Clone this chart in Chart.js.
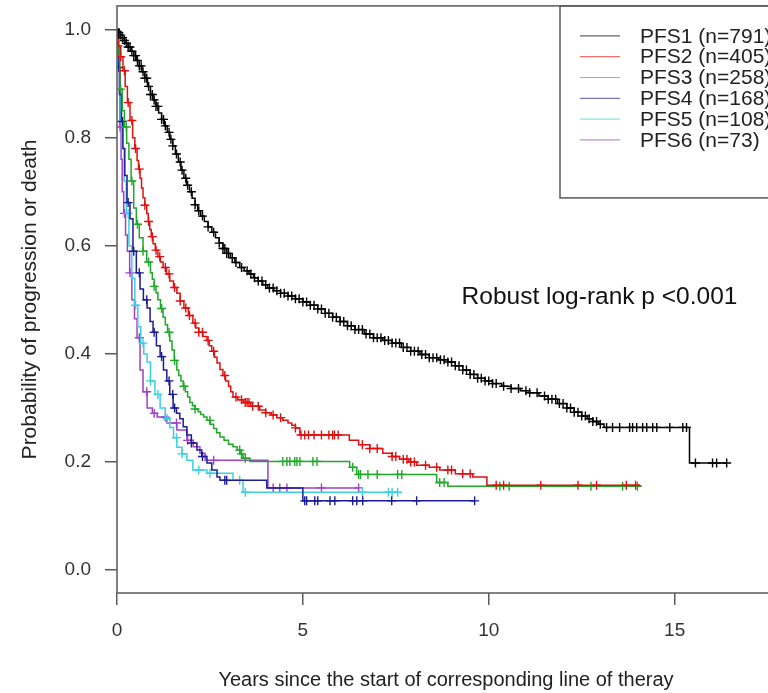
<!DOCTYPE html>
<html>
<head>
<meta charset="utf-8">
<script src="https://cdn.jsdelivr.net/npm/chart.js@4.4.1/dist/chart.umd.min.js"></script>
<style>
  html, body { margin: 0; padding: 0; background: #fff; overflow: hidden; }
  #wrap { width: 768px; height: 693px; overflow: hidden; }
  canvas { display: block; }
</style>
</head>
<body>
<div id="wrap"><canvas id="km" width="790" height="693"></canvas></div>
<script>
// Kaplan-Meier PFS by line of therapy
const seriesNames = ['PFS1 (n=791)', 'PFS2 (n=405)', 'PFS3 (n=258)', 'PFS4 (n=168)', 'PFS5 (n=108)', 'PFS6 (n=73)'];
const seriesColors = ['#000000', '#e01010', '#20a828', '#1c1c94', '#3cd0e0', '#a040cc'];

const pfs1Time = [0, 0.05, 0.1, 0.15, 0.2, 0.25, 0.3, 0.38, 0.45, 0.52, 0.6, 0.67, 0.75, 0.82, 0.9, 0.97, 1.05, 1.12, 1.2, 1.27, 1.35, 1.42, 1.5, 1.57, 1.65, 1.72, 1.8, 1.87, 1.95, 2.02, 2.1, 2.17, 2.25, 2.35, 2.45, 2.55, 2.65, 2.75, 2.85, 2.95, 3.05, 3.17, 3.3, 3.42, 3.55, 3.67, 3.8, 3.92, 4.05, 4.22, 4.4, 4.6, 4.8, 5.0, 5.2, 5.4, 5.6, 5.8, 6.0, 6.2, 6.4, 6.65, 6.9, 7.15, 7.4, 7.65, 7.9, 8.15, 8.4, 8.65, 8.9, 9.1, 9.3, 9.5, 9.7, 9.9, 10.1, 10.35, 10.6, 10.85, 11.1, 11.35, 11.6, 11.85, 12.1, 12.3, 12.5, 12.65, 12.8, 12.95, 13.1, 15.4, 16.4];
const pfs1Surv = [1, 0.995, 0.99, 0.985, 0.98, 0.975, 0.968, 0.96, 0.952, 0.943, 0.933, 0.922, 0.91, 0.895, 0.88, 0.87, 0.858, 0.846, 0.834, 0.822, 0.81, 0.797, 0.785, 0.77, 0.755, 0.74, 0.725, 0.712, 0.70, 0.688, 0.676, 0.665, 0.655, 0.645, 0.635, 0.625, 0.615, 0.605, 0.595, 0.586, 0.578, 0.569, 0.56, 0.554, 0.548, 0.541, 0.535, 0.528, 0.522, 0.517, 0.512, 0.507, 0.502, 0.496, 0.49, 0.483, 0.475, 0.468, 0.46, 0.452, 0.445, 0.437, 0.43, 0.425, 0.42, 0.412, 0.405, 0.399, 0.393, 0.389, 0.385, 0.378, 0.37, 0.362, 0.355, 0.35, 0.345, 0.34, 0.336, 0.332, 0.328, 0.322, 0.316, 0.308, 0.30, 0.292, 0.285, 0.28, 0.275, 0.27, 0.264, 0.198, 0.198];
const pfs1Cens = [0.05, 0.1, 0.15, 0.2, 0.25, 0.3, 0.35, 0.4, 0.45, 0.5, 0.55, 0.6, 0.65, 0.7, 0.75, 0.8, 0.85, 0.9, 0.95, 1.0, 1.05, 1.1, 1.2, 1.25, 1.3, 1.4, 1.45, 1.5, 1.6, 1.7, 1.75, 1.85, 1.9, 2.0, 2.1, 2.2, 2.3, 2.45, 2.6, 2.75, 2.85, 2.9, 2.95, 3.0, 3.1, 3.2, 3.35, 3.5, 3.6, 3.7, 3.8, 3.9, 4.0, 4.1, 4.2, 4.3, 4.4, 4.5, 4.6, 4.7, 4.8, 4.9, 5.0, 5.1, 5.2, 5.3, 5.4, 5.5, 5.6, 5.7, 5.8, 5.9, 6.0, 6.1, 6.2, 6.3, 6.4, 6.5, 6.6, 6.7, 6.8, 6.9, 7.0, 7.1, 7.2, 7.3, 7.4, 7.5, 7.6, 7.7, 7.8, 7.9, 8.0, 8.1, 8.2, 8.3, 8.4, 8.5, 8.6, 8.7, 8.8, 8.9, 9.0, 9.1, 9.2, 9.3, 9.4, 9.5, 9.6, 9.7, 9.8, 9.9, 10.0, 10.1, 10.2, 10.4, 10.6, 10.8, 11.0, 11.1, 11.3, 11.5, 11.6, 11.7, 11.8, 11.9, 12.0, 12.1, 12.2, 12.3, 12.4, 12.5, 12.6, 12.7, 12.8, 12.9, 13.0, 13.17, 13.33, 13.52, 13.79, 13.87, 13.98, 14.14, 14.25, 14.41, 14.52, 14.87, 15.22, 15.32, 15.56, 16.02, 16.13, 16.4];

const pfs2Time = [0, 0.05, 0.1, 0.16, 0.22, 0.28, 0.35, 0.42, 0.48, 0.54, 0.58, 0.62, 0.66, 0.7, 0.75, 0.8, 0.84, 0.88, 0.92, 0.97, 1.03, 1.1, 1.17, 1.24, 1.33, 1.42, 1.52, 1.61, 1.7, 1.8, 1.92, 2.04, 2.12, 2.2, 2.31, 2.42, 2.48, 2.55, 2.62, 2.69, 2.77, 2.85, 2.92, 3.0, 3.06, 3.12, 3.25, 3.4, 3.6, 3.84, 4.0, 4.15, 4.3, 4.46, 4.6, 4.7, 4.8, 4.92, 6.25, 6.5, 6.8, 7.15, 7.4, 7.6, 7.85, 8.06, 8.4, 8.68, 9.1, 9.57, 9.95, 14.06];
const pfs2Surv = [1, 0.97, 0.95, 0.924, 0.895, 0.865, 0.832, 0.80, 0.78, 0.758, 0.742, 0.725, 0.707, 0.689, 0.675, 0.66, 0.645, 0.63, 0.617, 0.604, 0.592, 0.58, 0.57, 0.56, 0.548, 0.535, 0.523, 0.512, 0.498, 0.485, 0.471, 0.457, 0.448, 0.44, 0.432, 0.425, 0.415, 0.405, 0.394, 0.383, 0.371, 0.36, 0.35, 0.34, 0.33, 0.32, 0.315, 0.31, 0.303, 0.296, 0.291, 0.287, 0.282, 0.277, 0.272, 0.268, 0.263, 0.25, 0.24, 0.232, 0.225, 0.216, 0.21, 0.205, 0.20, 0.194, 0.19, 0.185, 0.178, 0.172, 0.157, 0.155];
const pfs2Cens = [0.1, 0.2, 0.3, 0.4, 0.5, 0.6, 0.75, 0.85, 0.95, 1.05, 1.15, 1.3, 1.4, 1.55, 1.7, 1.85, 1.95, 2.1, 2.2, 2.3, 2.45, 2.6, 2.9, 3.2, 3.35, 3.45, 3.5, 3.55, 3.65, 3.8, 4.0, 4.2, 4.4, 4.8, 4.95, 5.05, 5.15, 5.3, 5.5, 5.7, 5.8, 5.85, 5.95, 6.6, 6.8, 7.0, 7.4, 7.5, 7.7, 7.8, 7.9, 8.0, 8.3, 8.6, 8.9, 9.0, 9.3, 9.5, 10.2, 10.4, 11.4, 12.4, 12.9, 13.7, 13.95];

const pfs3Time = [0, 0.03, 0.08, 0.14, 0.2, 0.26, 0.32, 0.38, 0.45, 0.52, 0.6, 0.7, 0.8, 0.9, 0.95, 1.0, 1.05, 1.1, 1.17, 1.24, 1.3, 1.36, 1.42, 1.48, 1.54, 1.61, 1.66, 1.72, 1.78, 1.84, 1.9, 1.96, 2.03, 2.1, 2.18, 2.25, 2.33, 2.42, 2.51, 2.6, 2.68, 2.77, 2.88, 3.0, 3.12, 3.23, 3.31, 3.39, 3.58, 6.26, 6.45, 8.6, 8.9, 14.06];
const pfs3Surv = [1, 0.95, 0.89, 0.85, 0.82, 0.79, 0.76, 0.72, 0.67, 0.64, 0.615, 0.59, 0.57, 0.55, 0.538, 0.525, 0.513, 0.50, 0.484, 0.468, 0.454, 0.44, 0.424, 0.407, 0.388, 0.37, 0.36, 0.35, 0.34, 0.33, 0.32, 0.31, 0.304, 0.298, 0.293, 0.288, 0.283, 0.277, 0.27, 0.262, 0.254, 0.246, 0.24, 0.233, 0.228, 0.222, 0.215, 0.207, 0.201, 0.19, 0.177, 0.162, 0.155, 0.155];
const pfs3Cens = [0.1, 0.25, 0.4, 0.55, 0.7, 0.85, 1.0, 1.2, 1.4, 1.55, 1.8, 2.1, 2.5, 3.3, 3.35, 3.45, 4.46, 4.57, 4.65, 4.78, 4.84, 4.92, 5.27, 5.38, 6.34, 6.5, 6.55, 6.75, 7.0, 7.55, 7.66, 8.68, 8.8, 10.3, 10.55, 12.75, 13.6, 14.0];

const pfs4Time = [0, 0.02, 0.05, 0.08, 0.12, 0.16, 0.21, 0.27, 0.35, 0.43, 0.52, 0.62, 0.71, 0.81, 0.89, 0.97, 1.06, 1.16, 1.25, 1.34, 1.42, 1.51, 1.6, 1.69, 1.78, 1.88, 2.0, 2.15, 2.28, 2.42, 2.55, 2.69, 2.77, 4.03, 5.0, 9.62];
const pfs4Surv = [1, 0.97, 0.93, 0.88, 0.83, 0.78, 0.73, 0.68, 0.65, 0.59, 0.55, 0.52, 0.50, 0.485, 0.46, 0.44, 0.415, 0.395, 0.37, 0.35, 0.325, 0.30, 0.29, 0.28, 0.265, 0.25, 0.235, 0.222, 0.21, 0.198, 0.185, 0.172, 0.166, 0.152, 0.128, 0.128];
const pfs4Cens = [0.05, 0.15, 0.3, 0.45, 0.6, 0.8, 1.0, 1.2, 1.4, 1.5, 1.55, 2.0, 2.3, 2.9, 2.95, 5.05, 5.1, 5.32, 5.4, 5.73, 5.86, 6.34, 6.45, 6.61, 7.39, 8.06, 9.62];

const pfs5Time = [0, 0.02, 0.04, 0.07, 0.1, 0.14, 0.19, 0.25, 0.32, 0.40, 0.48, 0.56, 0.64, 0.72, 0.81, 0.9, 1.02, 1.16, 1.3, 1.42, 1.52, 1.61, 1.75, 1.88, 2.04, 2.42, 3.12, 3.39, 7.55];
const pfs5Surv = [1, 0.97, 0.93, 0.88, 0.83, 0.78, 0.72, 0.66, 0.60, 0.54, 0.49, 0.45, 0.42, 0.40, 0.385, 0.35, 0.325, 0.30, 0.28, 0.264, 0.245, 0.227, 0.215, 0.203, 0.185, 0.179, 0.166, 0.144, 0.144];
const pfs5Cens = [0.05, 0.12, 0.3, 0.5, 0.7, 0.9, 1.1, 1.35, 1.6, 1.75, 2.2, 2.5, 3.3, 3.45, 6.6, 7.3, 7.4, 7.55];

const pfs6Time = [0, 0.02, 0.04, 0.06, 0.08, 0.11, 0.14, 0.18, 0.23, 0.28, 0.34, 0.40, 0.47, 0.54, 0.62, 0.70, 0.81, 0.95, 1.08, 1.34, 1.61, 1.88, 2.05, 2.23, 2.37, 4.06, 6.5];
const pfs6Surv = [1, 0.97, 0.93, 0.88, 0.82, 0.76, 0.70, 0.66, 0.62, 0.59, 0.55, 0.50, 0.465, 0.43, 0.37, 0.33, 0.30, 0.29, 0.283, 0.272, 0.259, 0.24, 0.228, 0.216, 0.203, 0.152, 0.152];
const pfs6Cens = [0.03, 0.08, 0.2, 0.35, 0.6, 0.8, 1.0, 1.3, 1.6, 1.9, 2.6, 4.2, 4.38, 4.57, 5.5, 6.5];

const xTicks = [0, 5, 10, 15];
const yTicks = [0, 0.2, 0.4, 0.6, 0.8, 1.0];
const xTitle = 'Years since the start of corresponding line of theray';
const yTitle = 'Probability of progression or death';
const pValueText = 'Robust log-rank p <0.001';
const pValuePos = [9.27, 0.505];

const FONT = '"Liberation Sans", Arial, Helvetica, sans-serif';

// survival value in effect at time t (step function)
function survAt(times, surv, t) {
  let s = surv[0];
  for (let i = 0; i < times.length; i++) {
    if (times[i] <= t) s = surv[i]; else break;
  }
  return s;
}

const curves = [
  { t: pfs1Time, s: pfs1Surv, c: pfs1Cens },
  { t: pfs2Time, s: pfs2Surv, c: pfs2Cens },
  { t: pfs3Time, s: pfs3Surv, c: pfs3Cens },
  { t: pfs4Time, s: pfs4Surv, c: pfs4Cens },
  { t: pfs5Time, s: pfs5Surv, c: pfs5Cens },
  { t: pfs6Time, s: pfs6Surv, c: pfs6Cens }
];

const datasets = [];
curves.forEach((cv, i) => {
  datasets.push({
    label: seriesNames[i],
    data: cv.t.map((t, j) => ({ x: t, y: cv.s[j] })),
    showLine: true, stepped: true,
    borderColor: seriesColors[i], borderWidth: 1.5,
    pointRadius: 0, order: i
  });
  datasets.push({
    label: seriesNames[i] + ' censored',
    data: cv.c.map(t => ({ x: t, y: survAt(cv.t, cv.s, t) })),
    showLine: false,
    pointStyle: 'cross', pointRadius: 4.5,
    borderColor: seriesColors[i], backgroundColor: seriesColors[i], borderWidth: 1.4,
    order: i
  });
});

// box around plot, legend box, p-value text
const decor = {
  id: 'decor',
  afterDraw(chart) {
    const { ctx, chartArea: a, scales } = chart;
    ctx.save();
    ctx.strokeStyle = '#5a5a5a';
    ctx.lineWidth = 1.5;
    ctx.strokeRect(a.left, a.top, a.right - a.left, a.bottom - a.top);

    // legend
    const lx = 560, ly = a.top, lh = 192;
    ctx.strokeRect(lx, ly, 260, lh);
    ctx.font = '21px ' + FONT;
    ctx.textBaseline = 'middle';
    ctx.textAlign = 'left';
    seriesNames.forEach((name, i) => {
      const y = ly + 30 + i * 20.8;
      ctx.globalAlpha = 0.6;
      ctx.strokeStyle = seriesColors[i];
      ctx.lineWidth = 1.2;
      ctx.beginPath();
      ctx.moveTo(580, y);
      ctx.lineTo(620, y);
      ctx.stroke();
      ctx.globalAlpha = 1;
      ctx.fillStyle = '#222';
      ctx.fillText(name, 640, y + 1);
    });

    // p-value annotation
    ctx.font = '24.5px ' + FONT;
    ctx.fillStyle = '#111';
    ctx.fillText(pValueText, scales.x.getPixelForValue(pValuePos[0]), scales.y.getPixelForValue(pValuePos[1]));
    ctx.restore();
  }
};

new Chart(document.getElementById('km'), {
  type: 'scatter',
  data: { datasets: datasets },
  options: {
    responsive: false,
    animation: false,
    devicePixelRatio: 1,
    layout: { padding: { top: 5, right: 15, left: 0, bottom: 0 } },
    plugins: { legend: { display: false }, tooltip: { enabled: false } },
    scales: {
      x: {
        type: 'linear', min: 0, max: 17.7,
        afterBuildTicks: s => { s.ticks = xTicks.map(v => ({ value: v })); },
        afterFit: s => { s.height = 100; s.paddingLeft = 0; s.paddingRight = 0; },
        border: { display: false },
        grid: { drawOnChartArea: false, drawTicks: true, tickLength: 12, color: '#5a5a5a', lineWidth: 1.5 },
        ticks: { font: { family: FONT, size: 19 }, color: '#333', padding: 14, maxRotation: 0, callback: v => String(v) },
        title: { display: true, text: xTitle, font: { family: FONT, size: 20 }, color: '#222', padding: { top: 0, bottom: 1 } }
      },
      y: {
        type: 'linear', min: -0.0425, max: 1.044,
        afterBuildTicks: s => { s.ticks = yTicks.map(v => ({ value: v })); },
        afterFit: s => { s.width = 117; s.paddingTop = 0; s.paddingBottom = 0; },
        border: { display: false },
        grid: { drawOnChartArea: false, drawTicks: true, tickLength: 12, color: '#5a5a5a', lineWidth: 1.5 },
        ticks: { font: { family: FONT, size: 19 }, color: '#333', padding: 14, callback: v => v.toFixed(1) },
        title: { display: true, text: yTitle, font: { family: FONT, size: 21 }, color: '#222', padding: { top: 18, bottom: 0 } }
      }
    }
  },
  plugins: [decor]
});
</script>
</body>
</html>
